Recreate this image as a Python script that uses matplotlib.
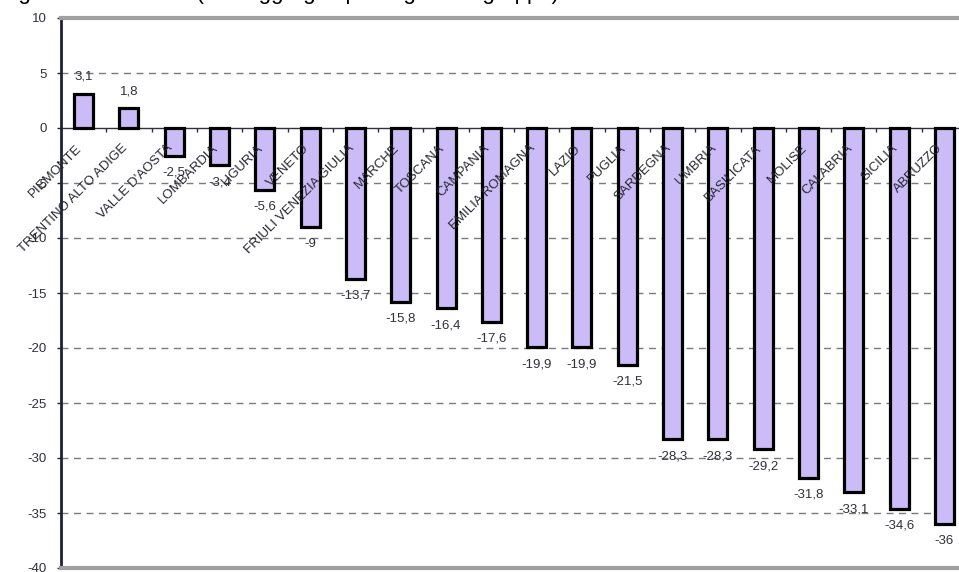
import matplotlib
matplotlib.use("Agg")
import matplotlib.pyplot as plt
import numpy as np

regions = ["PIEMONTE", "TRENTINO ALTO ADIGE", "VALLE D'AOSTA", "LOMBARDIA", "LIGURIA",
           "VENETO", "FRIULI VENEZIA GIULIA", "MARCHE", "TOSCANA", "CAMPANIA",
           "EMILIA ROMAGNA", "LAZIO", "PUGLIA", "SARDEGNA", "UMBRIA",
           "BASILICATA", "MOLISE", "CALABRIA", "SICILIA", "ABRUZZO"]
values = [3.1, 1.8, -2.5, -3.4, -5.6, -9, -13.7, -15.8, -16.4, -17.6,
          -19.9, -19.9, -21.5, -28.3, -28.3, -29.2, -31.8, -33.1, -34.6, -36]
yticks = [10, 5, 0, -5, -10, -15, -20, -25, -30, -35, -40]
title = "Regione  territoriale  (dati aggregati per regione e gruppo)"

plt.rcParams['font.family'] = ['Liberation Sans', 'DejaVu Sans']

W, H = 959, 572
fig = plt.figure(figsize=(W / 100, H / 100), dpi=100)
left, right, top, bottom = 61, 967, 18, 568
ax = fig.add_axes([left / W, (H - bottom) / H, (right - left) / W, (bottom - top) / H])

x = np.arange(len(regions))
ax.set_xlim(-0.5, len(regions) - 0.5)
ax.set_ylim(-40, 10)

# grid lines
for yv in yticks:
    if yv in (10, 0, -40):
        continue
    ax.axhline(yv, color='#7a7a80', lw=1.0, ls=(0, (5, 4)), zorder=1)

ax.bar(x, values, width=0.42, color='#CBBCF7', edgecolor='black', linewidth=2.3, zorder=3)

# zero line with ticks at category boundaries
ax.axhline(0, color='#303040', lw=1.0, zorder=2)
for b in np.arange(-0.5, len(regions) - 0.5 + 0.01, 1.0):
    ax.plot([b, b], [0, -0.38], color='#303040', lw=1.0, zorder=2, solid_capstyle='butt')

# borders
for s in ('right', 'bottom', 'top'):
    ax.spines[s].set_visible(False)
ax.spines['left'].set_color('#202038')
ax.spines['left'].set_linewidth(2.0)
ax.axhline(10, color='#a0a0a0', lw=3.0, zorder=4, clip_on=False)
ax.axhline(-40, color='#a0a0a0', lw=3.0, zorder=4, clip_on=False)

ax.set_xticks([])
ax.set_yticks(yticks)
ax.set_yticklabels([str(v) for v in yticks])
ax.tick_params(axis='y', direction='out', length=3, width=1, color='#202038',
               labelsize=9.5, labelcolor='#303038', pad=7)

# value labels
for xi, v in zip(x, values):
    s = ("%g" % v).replace('.', ',')
    if v >= 0:
        ax.annotate(s, (xi, v), xytext=(0, 8), textcoords='offset points',
                    ha='center', va='bottom', fontsize=9.5, color='#303038', zorder=5)
    else:
        ax.annotate(s, (xi, v), xytext=(0, -8), textcoords='offset points',
                    ha='center', va='top', fontsize=9.5, color='#303038', zorder=5)

# category labels
for xi, name in zip(x, regions):
    ax.text(xi - 0.17, -1.3, name, rotation=45, rotation_mode='anchor',
            ha='right', va='top', fontsize=9.5, color='#262630', zorder=6)

fig.text(-10 / W, 1.0 + 1.5 / H, title, fontsize=16, color='black', ha='left', va='baseline')

fig.savefig("out.png", dpi=100)
